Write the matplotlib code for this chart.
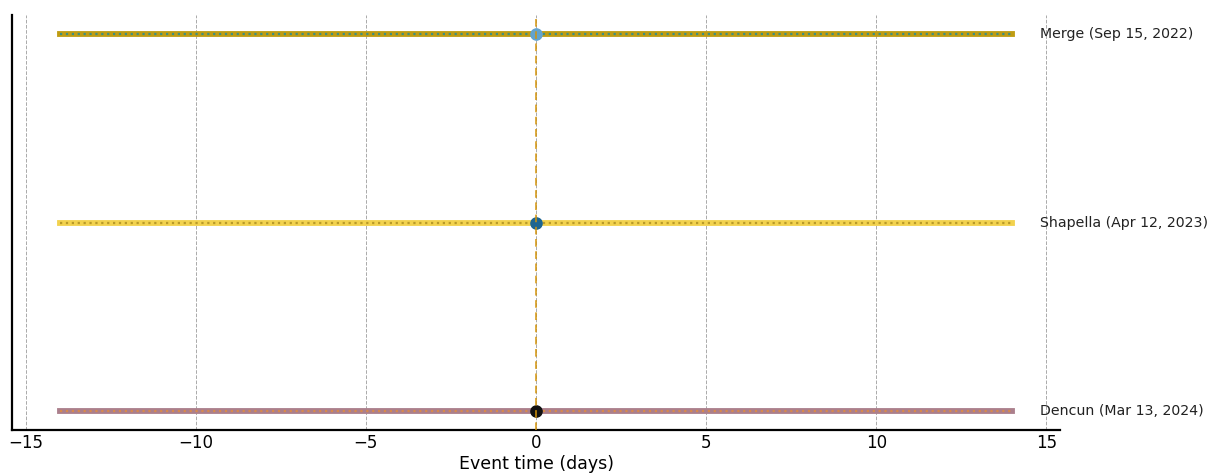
import matplotlib
matplotlib.use('Agg')
import matplotlib.pyplot as plt

# events (top to bottom)
events = ['Merge (Sep 15, 2022)', 'Shapella (Apr 12, 2023)', 'Dencun (Mar 13, 2024)']
y_pos = [2, 1, 0]
window_start = [-14, -14, -14]
window_end = [14, 14, 14]
event_day = [0, 0, 0]

band_colors = ['#bf9c12', '#f2d24e', '#ab7f8c']
dot_colors = ['#3d8f82', '#b99a2a', '#d88a4a']
marker_colors = ['#62a3cf', '#1d6591', '#111111']

fig, ax = plt.subplots(figsize=(12.1, 4.74), dpi=100)

for i, name in enumerate(events):
    ax.plot([window_start[i], window_end[i]], [y_pos[i], y_pos[i]],
            color=band_colors[i], linewidth=4.2, solid_capstyle='projecting', zorder=2)
    ax.plot([window_start[i], window_end[i]], [y_pos[i], y_pos[i]],
            color=dot_colors[i], linewidth=1.6, linestyle=':', zorder=3)
    ax.scatter([event_day[i]], [y_pos[i]], s=65, color=marker_colors[i], zorder=4)
    ax.text(14.8, y_pos[i], name, va='center', ha='left', fontsize=10.2, color='#222222')

ax.axvline(0, color='#d4940a', linestyle=(0, (5, 3)), linewidth=1.1, zorder=5)

ax.set_xticks([-15, -10, -5, 0, 5, 10, 15])
ax.set_yticks([])
ax.grid(axis='x', linestyle='--', color='#aaaaaa', linewidth=0.7)
ax.set_axisbelow(True)
ax.tick_params(axis='x', direction='in', length=0, labelsize=12, pad=3)
ax.set_xlabel('Event time (days)', fontsize=12.5, labelpad=2)

for s in ['top', 'right']:
    ax.spines[s].set_visible(False)
ax.spines['left'].set_linewidth(1.6)
ax.spines['bottom'].set_linewidth(1.6)

ax.set_xlim(-15.4, 15.4)
ax.set_ylim(-0.1, 2.1)

plt.subplots_adjust(left=0.01, right=0.876, top=0.968, bottom=0.093)
fig.savefig('out.png')
